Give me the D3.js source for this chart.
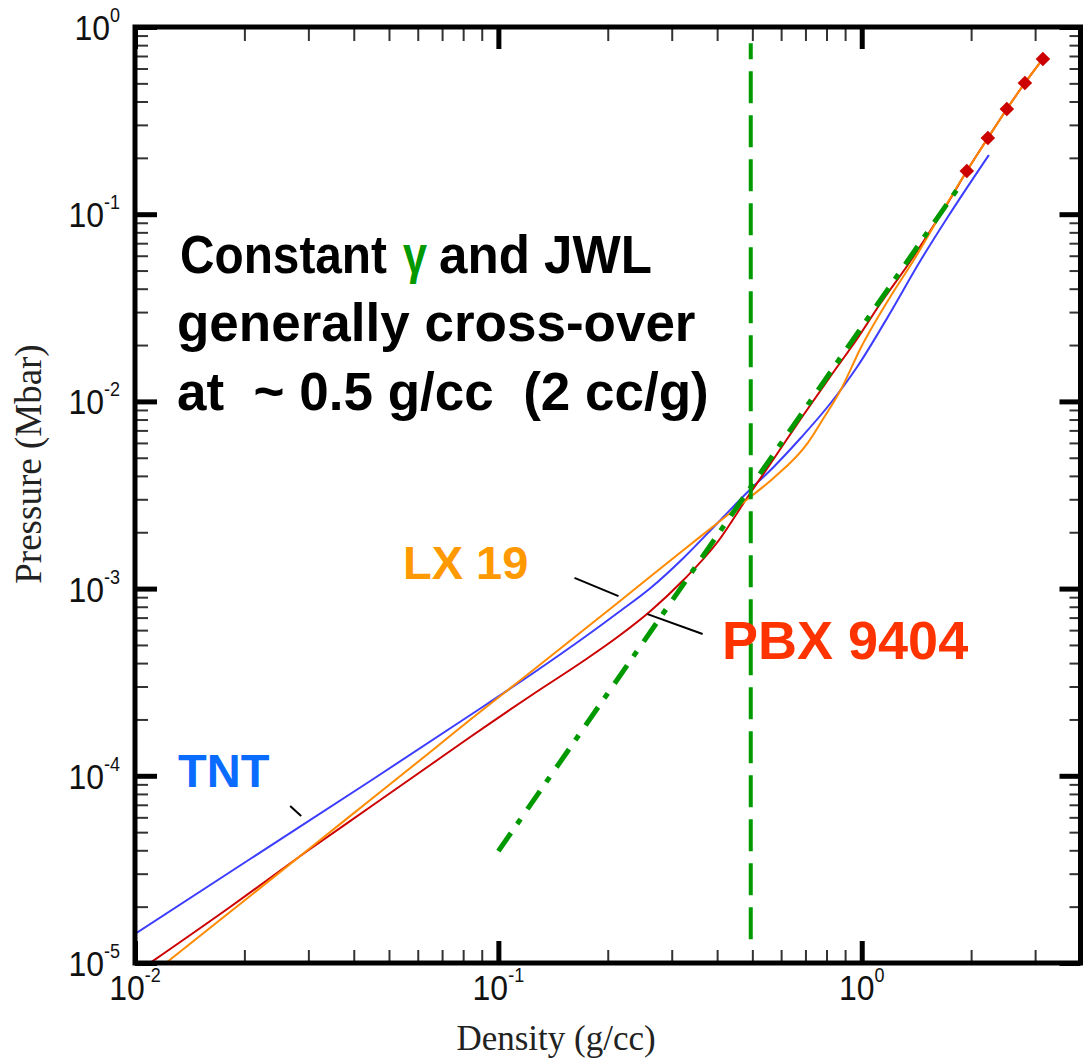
<!DOCTYPE html>
<html><head><meta charset="utf-8">
<script src="https://cdn.jsdelivr.net/npm/d3@7"></script>
<style>body{margin:0;background:#fff}svg{display:block}</style>
</head><body>
<svg id="c" width="1087" height="1061"></svg>
<script>
// ---------- data ----------
const tntDensity  = [0.01, 0.02074, 0.0444, 0.08215, 0.1248, 0.1714, 0.2128, 0.2623, 0.3232, 0.4011, 0.4853, 0.5722, 0.6792, 0.8215, 0.975, 1.179, 1.454, 1.725, 2.238];
const tntPressure = [1.428e-5, 3.593e-5, 9.38e-5, 2.061e-4, 3.541e-4, 5.445e-4, 7.408e-4, 1.007e-3, 1.457e-3, 2.241e-3, 3.281e-3, 4.464e-3, 6.374e-3, 9.806e-3, 1.5455e-2, 2.82e-2, 5.69e-2, 9.66e-2, 0.2071];

const lx19Density  = [0.01225, 0.02074, 0.03034, 0.0444, 0.06496, 0.08215, 0.1248, 0.2128, 0.3232, 0.4011, 0.4853, 0.5722, 0.7098, 0.7856, 0.8752, 0.9936, 1.202, 1.391, 1.651, 1.946, 2.224, 2.508, 2.812, 3.152];
const lx19Pressure = [1.012e-5, 2.28e-5, 4.114e-5, 7.425e-5, 1.34e-4, 1.939e-4, 3.674e-4, 8.378e-4, 1.608e-3, 2.241e-3, 3.01e-3, 3.898e-3, 5.99e-3, 8.15e-3, 1.15e-2, 1.929e-2, 3.656e-2, 5.69e-2, 0.1003, 0.170, 0.255, 0.365, 0.502, 0.675];

const pbxDensity  = [0.011, 0.01827, 0.03034, 0.0444, 0.06496, 0.08215, 0.1248, 0.1714, 0.2128, 0.2623, 0.3232, 0.4011, 0.4853, 0.5722, 0.6792, 0.8215, 0.975, 1.128, 1.339, 1.549, 1.725, 1.946, 2.224, 2.508, 2.812, 3.152];
const pbxPressure = [1.0e-5, 1.991e-5, 4.064e-5, 6.81e-5, 1.142e-4, 1.572e-4, 2.735e-4, 4.104e-4, 5.513e-4, 7.594e-4, 1.111e-3, 1.774e-3, 3.085e-3, 4.926e-3, 8.054e-3, 1.367e-2, 2.182e-2, 3.354e-2, 5.354e-2, 8.235e-2, 0.1148, 0.170, 0.255, 0.365, 0.502, 0.675];

const markerDensity  = [1.946, 2.224, 2.508, 2.812, 3.152];
const markerPressure = [0.170, 0.255, 0.365, 0.502, 0.675];

// constant-gamma line (dash-dot)
const gammaDensity  = [0.1, 1.85];
const gammaPressure = [3.96e-5, 0.1397];

// cross-over density (vertical dashed line)
const crossDensity = 0.495;
const crossPressure = [1.2e-5, 0.82];

// leader strokes
const leaders = [
  [[0.162, 1.14e-3], [0.2141, 9.12e-4]],
  [[0.2573, 7.31e-4], [0.3648, 5.72e-4]],
  [[0.02673, 6.9e-5], [0.02866, 6.1e-5]]
];

const xMajor = [0.01, 0.1, 1];
const yMajor = [1e-5, 1e-4, 1e-3, 1e-2, 1e-1, 1];
const xTickExp = ["-2", "-1", "0"];
const yTickExp = ["-5", "-4", "-3", "-2", "-1", "0"];

// annotation pieces: text, colour, left x, baseline, target width (or null)
const annotationPieces = [
  ["Constant", "#000", 180, 273, 207],
  ["γ", "#009900", 403, 273, 24],
  ["and JWL", "#000", 439, 273, 213],
  ["generally cross-over", "#000", 177, 341, null],
  ["at\u00a0\u00a0~ 0.5 g/cc\u00a0\u00a0(2 cc/g)", "#000", 177, 410, null]
];

// ---------- scales ----------
const x = d3.scaleLog().domain([0.01, 4]).range([135, 1080.5]);
const y = d3.scaleLog().domain([1e-5, 1]).range([963, 27]);

const minorOf = (dom) => {
  const out = [];
  for (let e = Math.floor(Math.log10(dom[0])); e <= Math.ceil(Math.log10(dom[1])); e++)
    for (let k = 2; k <= 9; k++) { const v = k * Math.pow(10, e); if (v > dom[0] && v < dom[1]) out.push(v); }
  return out;
};
const xMinor = minorOf(x.domain());
const yMinor = minorOf(y.domain());

const svg = d3.select("#c");
const [x0, x1] = x.range();
const [y0, y1] = [y.range()[1], y.range()[0]];

svg.append("defs").append("clipPath").attr("id", "plot").append("rect")
  .attr("x", x0).attr("y", y0).attr("width", x1 - x0).attr("height", y1 - y0);

// ---------- ticks ----------
function ticks(axisFn, scale, vals, size, width, color, tr) {
  const g = svg.append("g").attr("transform", tr)
    .call(axisFn(scale).tickValues(vals).tickSize(-size).tickFormat(""));
  g.select(".domain").remove();
  g.selectAll("line").attr("stroke", color).attr("stroke-width", width);
}
ticks(d3.axisBottom, x, xMinor, 13, 2, "#333", `translate(0,${y1})`);
ticks(d3.axisTop, x, xMinor, 14, 2, "#333", `translate(0,${y0})`);
ticks(d3.axisLeft, y, yMinor, 13, 2, "#333", `translate(${x0},0)`);
ticks(d3.axisRight, y, yMinor, 11, 2, "#333", `translate(${x1},0)`);
ticks(d3.axisBottom, x, xMajor, 22, 5, "#000", `translate(0,${y1})`);
ticks(d3.axisTop, x, xMajor, 22, 5, "#000", `translate(0,${y0})`);
ticks(d3.axisLeft, y, yMajor, 22, 5, "#000", `translate(${x0},0)`);
ticks(d3.axisRight, y, yMajor, 21, 5, "#000", `translate(${x1},0)`);

// ---------- curves ----------
const zip = (a, b) => a.map((v, i) => [v, b[i]]);
const line = d3.line().x(d => x(d[0])).y(d => y(d[1])).curve(d3.curveMonotoneX);
const plot = svg.append("g").attr("clip-path", "url(#plot)");

plot.append("path").datum(zip(tntDensity, tntPressure)).attr("d", line)
  .attr("fill", "none").attr("stroke", "#3d3dff").attr("stroke-width", 2);
plot.append("path").datum(zip(pbxDensity, pbxPressure)).attr("d", line)
  .attr("fill", "none").attr("stroke", "#cc0000").attr("stroke-width", 2);
plot.append("path").datum(zip(lx19Density, lx19Pressure)).attr("d", line)
  .attr("fill", "none").attr("stroke", "#ff8a00").attr("stroke-width", 2);

plot.selectAll("path.mk").data(zip(markerDensity, markerPressure)).join("path")
  .attr("class", "mk")
  .attr("transform", d => `translate(${x(d[0])},${y(d[1])})`)
  .attr("d", d3.symbol().type(d3.symbolDiamond2).size(135))
  .attr("fill", "#cc0000");

// constant gamma dash-dot
plot.append("path").datum(zip(gammaDensity, gammaPressure))
  .attr("d", d3.line().x(d => x(d[0])).y(d => y(d[1])))
  .attr("fill", "none").attr("stroke", "#009900").attr("stroke-width", 5)
  .attr("stroke-dasharray", "22,11,6,12");

// vertical dashed
plot.append("line")
  .attr("x1", x(crossDensity)).attr("x2", x(crossDensity))
  .attr("y1", y(crossPressure[1])).attr("y2", y(crossPressure[0]))
  .attr("stroke", "#009900").attr("stroke-width", 4)
  .attr("stroke-dasharray", "32,12").attr("stroke-dashoffset", 16);

// leaders
svg.selectAll("line.ld").data(leaders).join("line").attr("class", "ld")
  .attr("x1", d => x(d[0][0])).attr("y1", d => y(d[0][1]))
  .attr("x2", d => x(d[1][0])).attr("y2", d => y(d[1][1]))
  .attr("stroke", "#000").attr("stroke-width", 2);

// ---------- frame ----------
svg.append("rect").attr("x", x0).attr("y", y0).attr("width", x1 - x0).attr("height", y1 - y0)
  .attr("fill", "none").attr("stroke", "#000").attr("stroke-width", 5);

// ---------- tick labels ----------
const sans = "Liberation Sans, Arial, sans-serif";
function powLabel(tx, ty, exp, anchor) {
  const t = svg.append("text").attr("transform", `translate(${tx},${ty}) scale(1,1.12)`)
    .attr("text-anchor", anchor).attr("font-family", sans).attr("font-size", 32).attr("fill", "#111");
  t.append("tspan").text("10");
  t.append("tspan").attr("font-size", 18).attr("dy", -16).text(exp);
}
yMajor.forEach((v, i) => powLabel(120, y(v) + 13, yTickExp[i], "end"));
xMajor.forEach((v, i) => powLabel(x(v), 1000, xTickExp[i], "middle"));

// ---------- axis titles ----------
const serif = "Liberation Serif, Times New Roman, serif";
svg.append("text").attr("x", 556).attr("y", 1050).attr("text-anchor", "middle")
  .attr("font-family", serif).attr("font-size", 35).attr("fill", "#222").text("Density (g/cc)");
svg.append("text").attr("transform", `translate(41,${(y0 + y1) / 2 - 31}) rotate(-90)`)
  .attr("text-anchor", "middle").attr("font-family", serif).attr("font-size", 37)
  .attr("fill", "#222").text("Pressure (Mbar)");

// ---------- annotations ----------
annotationPieces.forEach(([txt, col, ax, ay, w]) => {
  const t = svg.append("text")
    .attr("font-family", sans).attr("font-weight", "bold").attr("font-size", 53)
    .attr("fill", col).text(txt);
  let sx = 1;
  if (w) { const nat = t.node().getComputedTextLength(); if (nat > w) sx = w / nat; }
  t.attr("transform", `translate(${ax},${ay}) scale(${sx},1)`);
});

const bigLabel = (txt, tx, ty, fs, col) => svg.append("text").attr("x", tx).attr("y", ty)
  .attr("font-family", sans).attr("font-weight", "bold").attr("font-size", fs).attr("fill", col).text(txt);
bigLabel("LX 19", 403, 579, 47, "#ff9900");
bigLabel("PBX 9404", 722, 659, 54, "#ff3300");
bigLabel("TNT", 178, 787, 47, "#0a6cff");
</script>
</body></html>
